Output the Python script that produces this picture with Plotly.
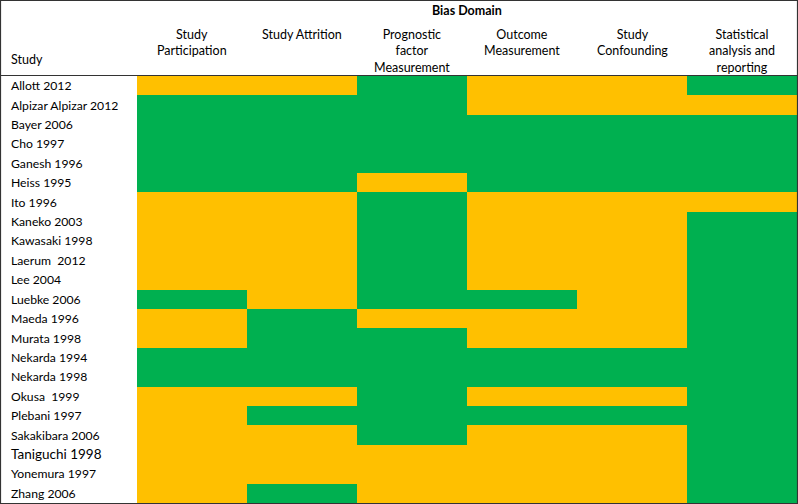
import plotly.graph_objects as go

studies = ["Allott 2012", "Alpizar Alpizar 2012", "Bayer 2006", "Cho 1997", "Ganesh 1996",
           "Heiss 1995", "Ito 1996", "Kaneko 2003", "Kawasaki 1998", "Laerum  2012",
           "Lee 2004", "Luebke 2006", "Maeda 1996", "Murata 1998", "Nekarda 1994",
           "Nekarda 1998", "Okusa  1999", "Plebani 1997", "Sakakibara 2006",
           "Taniguchi 1998", "Yonemura 1997", "Zhang 2006"]

domains = ["Study<br>Participation", "Study Attrition", "Prognostic<br>factor<br>Measurement",
           "Outcome<br>Measurement", "Study<br>Confounding", "Statistical<br>analysis and<br>reporting"]

# 1 = low risk (green), 0 = moderate risk (yellow)
study_participation = [0, 1, 1, 1, 1, 1, 0, 0, 0, 0, 0, 1, 0, 0, 1, 1, 0, 0, 0, 0, 0, 0]
study_attrition     = [0, 1, 1, 1, 1, 1, 0, 0, 0, 0, 0, 0, 1, 1, 1, 1, 0, 1, 0, 0, 0, 1]
prognostic_factor   = [1, 1, 1, 1, 1, 0, 1, 1, 1, 1, 1, 1, 0, 1, 1, 1, 1, 1, 1, 0, 0, 0]
outcome_measurement = [0, 0, 1, 1, 1, 1, 0, 0, 0, 0, 0, 1, 0, 0, 1, 1, 0, 1, 0, 0, 0, 0]
study_confounding   = [0, 0, 1, 1, 1, 1, 0, 0, 0, 0, 0, 0, 0, 0, 1, 1, 0, 1, 0, 0, 0, 0]
statistical_analysis = [1, 0, 1, 1, 1, 1, 0, 1, 1, 1, 1, 1, 1, 1, 1, 1, 1, 1, 1, 1, 1, 1]

columns = [study_participation, study_attrition, prognostic_factor,
           outcome_measurement, study_confounding, statistical_analysis]
z = [[col[i] for col in columns] for i in range(len(studies))]

YELLOW = "#FFC000"
GREEN = "#00B050"
FONT = "Lato"

W, H = 798, 504
L, R, T, B = 137, 1, 76, 1
pw, ph = W - L - R, H - T - B

xs = list(range(len(domains)))
ys = list(range(len(studies)))

fig = go.Figure(go.Heatmap(
    z=z, x=xs, y=ys,
    colorscale=[[0, YELLOW], [0.5, YELLOW], [0.5, GREEN], [1, GREEN]],
    zmin=0, zmax=1, showscale=False,
    text=[[studies[i]] * len(domains) for i in ys],
    hovertemplate="%{text}<extra></extra>",
))

annotations = []
# Row labels
for i, s in enumerate(studies):
    size = 13.5 if s.startswith("Taniguchi") else 12.2
    annotations.append(dict(
        x=0, xref="paper", y=i, yref="y", xanchor="left", yanchor="middle",
        xshift=-(L - 9), text=s.replace("  ", " \u00a0"), showarrow=False,
        font=dict(family=FONT, size=size, color="#000"),
    ))
# Column headers
for j, d in enumerate(domains):
    annotations.append(dict(
        x=j, xref="x", y=1, yref="paper", xanchor="center", yanchor="top",
        yshift=T - 25, text=d, showarrow=False,
        font=dict(family=FONT, size=12.5, color="#000"),
    ))
annotations.append(dict(
    x=0, xref="paper", y=1, yref="paper", xanchor="left", yanchor="middle",
    xshift=-(L - 9), yshift=T - 59, text="Study", showarrow=False,
    font=dict(family=FONT, size=12.5, color="#000"),
))
annotations.append(dict(
    x=0.5, xref="paper", y=1, yref="paper", xanchor="center", yanchor="middle",
    yshift=T - 10, text="<b>Bias Domain</b>", showarrow=False,
    font=dict(family=FONT, size=12.5, color="#000"),
))

def px_x(p):
    return (p - L) / pw

def px_y(p):
    return (H - B - p) / ph

shapes = [
    dict(type="rect", xref="paper", yref="paper", x0=px_x(0.5), x1=px_x(W - 0.5),
         y0=px_y(H - 0.5), y1=px_y(0.5), line=dict(color="#333", width=1.2)),
    dict(type="line", xref="paper", yref="paper", x0=px_x(0.5), x1=px_x(W - 0.5),
         y0=px_y(75.5), y1=px_y(75.5), line=dict(color="#333", width=1.2)),
]

fig.update_layout(
    width=W, height=H,
    margin=dict(l=L, r=R, t=T, b=B, pad=0),
    paper_bgcolor="white", plot_bgcolor="white",
    xaxis=dict(range=[-0.5, len(domains) - 0.5], visible=False, fixedrange=True),
    yaxis=dict(range=[len(studies) - 0.5, -0.5], visible=False, fixedrange=True),
    annotations=annotations, shapes=shapes, showlegend=False,
)

fig.write_html("out.html", config={"displayModeBar": False},
               post_script="document.body.style.margin='0';document.body.style.overflow='hidden';")
